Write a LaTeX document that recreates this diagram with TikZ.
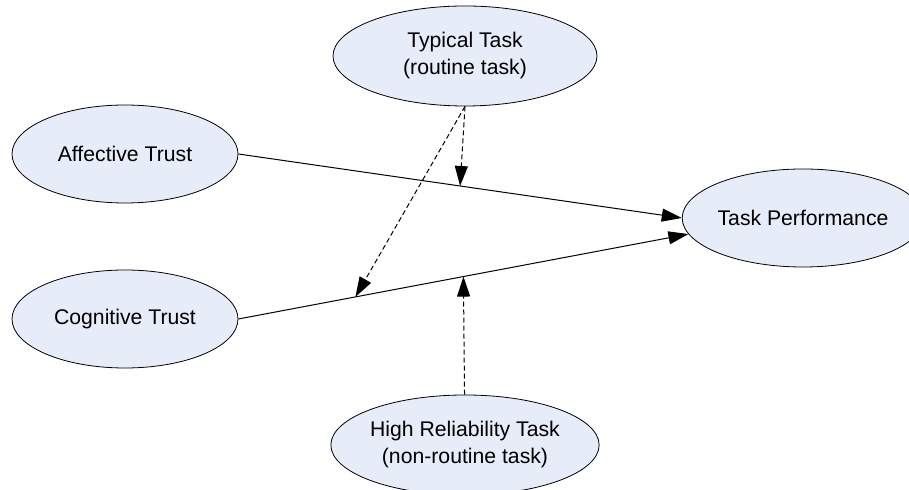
\documentclass[tikz,border=0pt]{standalone}
\usepackage{fontspec}
\setmainfont{Liberation Sans}
\usetikzlibrary{shapes.geometric,arrows.meta,calc}
\definecolor{ovalblue}{RGB}{230,236,248}
\begin{document}
\begin{tikzpicture}[x=0.5pt,y=-0.5pt,
    factor/.style={ellipse,draw,thin,fill=ovalblue,inner sep=0pt,align=center,
      font=\fontsize{10.6}{13.5}\selectfont},
    path/.style={-{Triangle[length=10pt,width=6.5pt]},line width=0.5pt},
    moderator/.style={path,dash pattern=on 2.5pt off 1.5pt}]
    \useasboundingbox (0,0) rectangle (909,490);
    \clip (0,0) rectangle (909,490);
    % constructs
    \node[factor,minimum width=132pt,minimum height=50pt] (typ) at (465,56) {Typical Task\\(routine task)};
    \node[factor,minimum width=113pt,minimum height=49pt] (aff) at (125,154) {Affective Trust};
    \node[factor,minimum width=113pt,minimum height=49pt] (cog) at (125,319) {Cognitive Trust};
    \node[factor,minimum width=112pt,minimum height=49pt] (tp) at (803,218) {Task Performance};
    \node[factor,minimum width=132pt,minimum height=50pt] (hr) at (465,445) {High Reliability Task\\(non-routine task)};
    % main effects
    \draw[path] (aff.east) -- (tp.west);
    \draw[path] (cog.east) -- (tp.188);
    \coordinate (affmid) at ($(aff.east)!0.5!(tp.west)$);
    \coordinate (cogq) at ($(cog.east)!0.26!(tp.188)$);
    \coordinate (cogmid) at ($(cog.east)!0.5!(tp.188)$);
    % moderators
    \draw[moderator] (typ.south) -- (affmid);
    \draw[moderator] (typ.south) -- (cogq);
    \draw[moderator] (hr) -- (cogmid);
\end{tikzpicture}
\end{document}
